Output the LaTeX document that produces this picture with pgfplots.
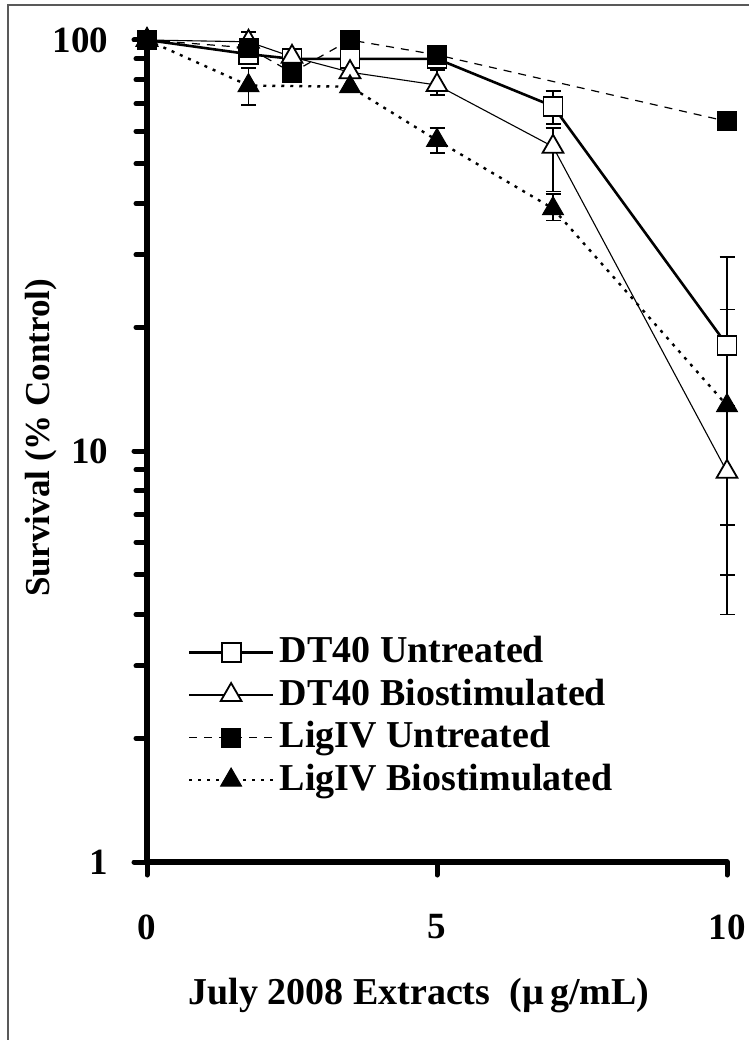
\documentclass[border=0pt]{standalone}
\usepackage{pgfplots}
\pgfplotsset{compat=1.18}
\usepackage{fontspec}
\setmainfont{Liberation Serif}
\newcommand\tickf{\fontsize{37}{44}\selectfont\bfseries}
\newcommand\xlabf{\fontsize{38}{44}\selectfont\bfseries}
\newcommand\ylabf{\fontsize{35}{42}\selectfont\bfseries}
\newcommand\legf{\fontsize{38}{42}\selectfont\bfseries}
\begin{document}
\begin{tikzpicture}
\useasboundingbox (0,0) rectangle (748pt,-1040pt);
\draw[line width=1.5pt, black!65] (8pt,-5pt) rectangle (800pt,-1100pt);
\begin{axis}[
  at={(147pt,-862pt)}, anchor=south west,
  scale only axis, width=580pt, height=822pt,
  xmin=0, xmax=10, ymin=1, ymax=100, ymode=log,
  axis x line*=bottom, axis y line*=left,
  axis line style={line width=5.5pt, line cap=round, -},
  xtick={0,5,10}, xticklabels={0,5,10},
  ytick={1,10,100}, yticklabels={1,10,100},
  minor ytick={2,3,4,5,6,7,8,9,20,30,40,50,60,70,80,90},
  tick align=outside, major tick length=13pt, minor tick length=11pt,
  every tick/.style={line width=5pt, line cap=round, black},
  clip=false,
  tick label style={font=\tickf},
  yticklabel style={xshift=-22pt},
  xticklabel style={yshift=-36pt},
  xlabel={July 2008 Extracts\ \ (µ\,g/mL)},
  ylabel={Survival (\% Control)},
  xlabel style={font=\xlabf, at={(axis description cs:0.469,0)}, anchor=center, yshift=-133pt},
  ylabel style={font=\ylabf, at={(axis description cs:-0.182,0.516)}, anchor=center},
  legend cell align=left,
  legend style={draw=none, fill=none, font=\legf, at={(axis description cs:0.07,0.277)}, anchor=north west, row sep=6.5pt, inner sep=0pt,
    nodes={inner sep=0pt, inner xsep=5.5pt, text height=28pt, text depth=8pt}},
  legend image code/.code={\draw[mark repeat=2,mark phase=2,#1] plot coordinates {(0pt,0pt) (42pt,0pt) (84pt,0pt)};},
]
% error bars first (beneath all markers)
\pgfplotsset{ebar/.style={forget plot, draw=none, mark=none,
  error bars/.cd, y dir=both, y explicit,
  error bar style={draw=black, solid, line width=1.6pt},
  error mark options={draw=black, solid, rotate=90, mark size=7.5pt, line width=1.8pt}}}
\addplot[ebar] coordinates {
 (1.75,92.4) += (0,0.1) -= (0,4.4)
 (5,90) += (0,4) -= (0,4)
 (7,69) += (0,6.1) -= (0,6.6)
 (10,18.1) += (0,11.5) -= (0,11.5)
};
\addplot[ebar] coordinates {
 (1.75,99) += (0,5.5) -= (0,0.1)
 (5,77.7) += (0,7) -= (0,4.3)
 (7,55) += (0,6) -= (0,12.2)
 (10,8.9) += (0,4) -= (0,3.9)
};
\addplot[ebar] coordinates {
 (1.75,77.5) += (0,8) -= (0,8.1)
 (5,57) += (0,4) -= (0,4)
 (7,38.9) += (0,3.3) -= (0,2.5)
 (10,12.9) += (0,9.2) -= (0,8.9)
};
% series
\addplot[black, line width=2.6pt, mark=square*, mark options={solid, fill=white, line width=1.8pt, mark size=9.5pt}]
 coordinates {(0,100) (1.75,92.4) (2.5,90) (3.5,90) (5,90) (7,69) (10,18.1)};
\addlegendentry{DT40 Untreated}
\addplot[black, line width=1.1pt, mark=triangle*, mark options={solid, fill=white, line width=1.8pt, mark size=12pt}]
 coordinates {(0,100) (1.75,99) (2.5,91) (3.5,83.5) (5,77.7) (7,55) (10,8.9)};
\addlegendentry{DT40 Biostimulated}
\addplot[black, line width=1.2pt, dash pattern=on 8pt off 7pt, mark=square*, mark options={solid, fill=black, line width=1pt, mark size=9.5pt}]
 coordinates {(0,100) (1.75,95.7) (2.5,83.3) (3.5,100) (5,92) (10,63.4)};
\addlegendentry{LigIV Untreated}
\addplot[black, line width=2.4pt, dash pattern=on 3pt off 6pt, mark=triangle*, mark options={solid, fill=black, line width=1pt, mark size=12pt}]
 coordinates {(0,100) (1.75,77.5) (3.5,77) (5,57) (7,38.9) (10,12.9)};
\addlegendentry{LigIV Biostimulated}
\end{axis}
\end{tikzpicture}
\end{document}
